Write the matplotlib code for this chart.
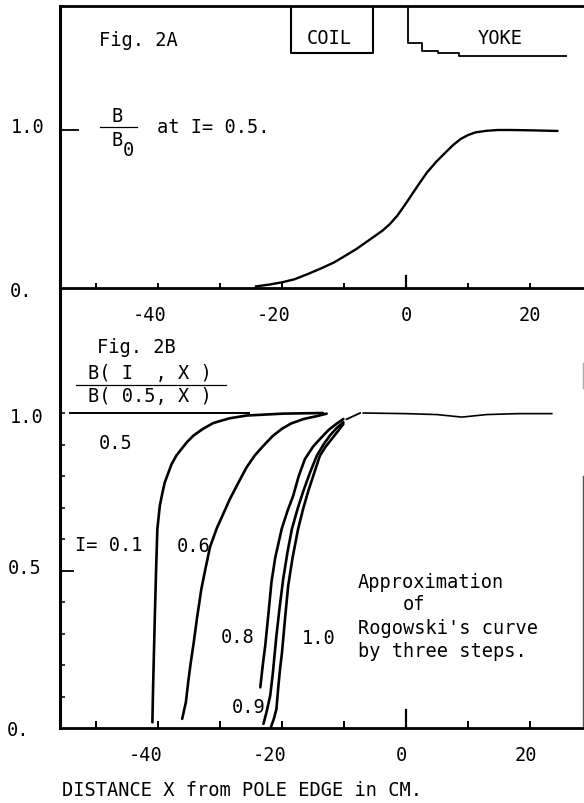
import matplotlib
matplotlib.use("Agg")
import matplotlib.pyplot as plt
from matplotlib.ticker import FixedLocator

plt.rcParams["font.family"] = ["DejaVu Sans Mono"]
plt.rcParams["font.size"] = 13.4

W, H = 584, 804

# fig 2A
xa = [-24.2, -22, -20, -18, -15.8, -13.7, -11.6, -9.8, -8, -6, -3.8, -2.6, -1.4, -0.2, 1, 2.2, 3.4,
      4.9, 6.4, 7.6, 8.8, 10, 11.2, 13, 14.8, 17, 20, 24.4]
ya = [0.01, 0.022, 0.036, 0.055, 0.089, 0.124, 0.162, 0.204, 0.247, 0.302, 0.363, 0.405, 0.458, 0.525,
      0.595, 0.665, 0.732, 0.8, 0.859, 0.905, 0.943, 0.968, 0.985, 0.995, 1.0, 1.0, 0.998, 0.994]
coil_x = [-18.6, -18.6, -5.3, -5.3]
coil_y = [1.8, 1.49, 1.49, 1.8]
yoke_x = [0.3, 0.3, 2.6, 2.6, 5.1, 5.1, 8.5, 8.5, 25.8]
yoke_y = [1.8, 1.55, 1.55, 1.5, 1.5, 1.485, 1.485, 1.47, 1.47]

# fig 2B
x01 = [-40.9, -40.8, -40.65, -40.5, -40.3, -40.1, -39.7, -39.3, -38.9, -37.8, -37, -36.2, -35.3, -34.3,
       -32.8, -31.1, -28.5, -25.7, -19.8, -13.4]
y01 = [0.018, 0.12, 0.24, 0.36, 0.505, 0.632, 0.706, 0.745, 0.78, 0.838, 0.866, 0.886, 0.908, 0.928,
       0.949, 0.968, 0.983, 0.992, 0.998, 1.0]
x06 = [-36.1, -35.5, -35.1, -34.7, -34.3, -33.7, -33, -32.3, -31.6, -30.5, -29.4, -28.4, -27, -25.7,
       -24.4, -23, -21.5, -20, -18.5, -16.5, -14.4, -12.8]
y06 = [0.029, 0.082, 0.15, 0.21, 0.262, 0.35, 0.442, 0.51, 0.575, 0.635, 0.683, 0.727, 0.78, 0.828,
       0.865, 0.896, 0.927, 0.95, 0.967, 0.981, 0.99, 0.998]
x08 = [-23.5, -23.1, -22.7, -22.2, -21.7, -21.1, -20.05, -19.1, -18.2, -17.3, -16.3, -15, -13.9, -12.5,
       -11.2, -10.1]
y08 = [0.129, 0.2, 0.262, 0.36, 0.463, 0.54, 0.632, 0.69, 0.737, 0.8, 0.854, 0.893, 0.917, 0.946,
       0.966, 0.981]
x09 = [-23, -22.5, -21.9, -21.5, -20.9, -20.4, -19.8, -19.1, -18.4, -17.5, -16.6, -15.5, -14.4, -13.3,
       -12.3, -11.2, -10.1]
y09 = [0.013, 0.05, 0.103, 0.17, 0.293, 0.38, 0.474, 0.56, 0.632, 0.695, 0.75, 0.81, 0.864, 0.9,
       0.928, 0.952, 0.971]
x10 = [-21.8, -21.3, -20.9, -20.6, -20.3, -20, -19.5, -19, -18.3, -17.4, -16.6, -15.8, -14.8, -13.9,
       -13, -12, -11, -10.1]
y10 = [0.002, 0.03, 0.06, 0.13, 0.19, 0.24, 0.35, 0.452, 0.54, 0.632, 0.695, 0.75, 0.81, 0.864,
       0.892, 0.917, 0.942, 0.965]
x05_left = [-54.2, -25.4]
y05_left = [1.0, 1.0]
x05_dash = [-9.6, -7.4]
y05_dash = [0.98, 1.0]
x05_right = [-6.9, 0, 5, 9, 13, 18, 23.5]
y05_right = [1.0, 0.998, 0.995, 0.987, 0.995, 0.998, 0.998]

xticks = [-50, -40, -30, -20, -10, 0, 10, 20]
xlabels = [-40, -20, 0, 20]
ytick_minor = [0.1, 0.2, 0.3, 0.4, 0.6, 0.7, 0.8, 0.9, 1.0]

fig = plt.figure(figsize=(W / 100, H / 100), dpi=100)


def make_ax(top, bottom):
    return fig.add_axes([60 / W, 1 - bottom / H, (W - 60) / W, (bottom - top) / H])


ax1 = make_ax(7, 289)
ax2 = make_ax(289, 729)
x_range = (-55.8, 28.7)
ax1.set_xlim(x_range)
ax2.set_xlim(x_range)
ax1.set_ylim(0, 282 / 158)
ax2.set_ylim(0, 440 / 315)

for ax in (ax1, ax2):
    ax.patch.set_alpha(0)
    ax.spines["left"].set_linewidth(2.2)
    ax.spines["bottom"].set_linewidth(2)
    ax.spines["right"].set_visible(False)
    ax.spines["top"].set_visible(False)
    ax.xaxis.set_major_locator(FixedLocator(xticks))
    ax.tick_params(axis="x", direction="in", width=1.4, labelbottom=False)
ax1.tick_params(axis="x", length=3.5)
ax2.tick_params(axis="x", length=5)
ax1.spines["top"].set_visible(True)
ax1.spines["top"].set_linewidth(2)

ax1.set_yticks([1.0])
ax1.set_yticklabels([])
ax1.tick_params(axis="y", direction="in", length=14, width=1.3)
ax2.set_yticks([0.5])
ax2.set_yticklabels([])
ax2.set_yticks(ytick_minor, minor=True)
ax2.tick_params(axis="y", which="major", direction="in", length=10, width=1.3)
ax2.tick_params(axis="y", which="minor", direction="in", length=3.5, width=1.1)

# taller tick at zero
ax1.plot([0, 0], [0, 0.078], color="black", lw=1.6)
ax2.plot([0, 0], [0, 0.057], color="black", lw=1.6)

# faint right edge of the lower frame
ax2.plot([28.55, 28.55], [0, 0.8], color="#555555", lw=1.0, clip_on=False)
ax2.plot([28.55, 28.55], [1.08, 1.16], color="#aaaaaa", lw=1.0, clip_on=False)

ax1.plot(xa, ya, color="black", lw=1.7)
ax1.plot(coil_x, coil_y, color="black", lw=1.5)
ax1.plot(yoke_x, yoke_y, color="black", lw=1.3)

for xs, ys in [(x01, y01), (x06, y06), (x08, y08), (x09, y09), (x10, y10)]:
    ax2.plot(xs, ys, color="black", lw=1.9, solid_capstyle="round")
ax2.plot(x05_left, y05_left, color="black", lw=1.4)
ax2.plot(x05_dash, y05_dash, color="black", lw=1.3)
ax2.plot(x05_right, y05_right, color="black", lw=1.2)


def txt(px, py, s, **kw):
    # text placed by its pixel position on the page
    kw.setdefault("va", "center")
    kw.setdefault("ha", "left")
    fig.text(px / W, 1 - py / H, s, **kw)


txt(99, 40, "Fig. 2A")
txt(307, 38, "COIL")
txt(478, 39, "YOKE")
txt(11, 128, "1.0")
txt(10, 292, "0.")
txt(117, 117, "B", ha="center")
txt(117, 140, "B", ha="center")
txt(128, 151, "0", ha="center")
txt(157, 128, "at I= 0.5.")
fig.add_artist(plt.Line2D([100 / W, 137 / W], [1 - 127.5 / H] * 2, color="black", lw=0.9))

for v in xlabels:
    px = 406 + v * 6.2
    if v < 0:
        txt(px - 8, 316, str(v), ha="center")
        txt(px - 12, 756, str(v), ha="center")
    else:
        txt(px, 316, str(v), ha="center")
        txt(px - 4.5, 756, str(v), ha="center")

txt(97, 348, "Fig. 2B")
txt(88, 374, "B( I  , X )")
txt(88, 397, "B( 0.5, X )")
fig.add_artist(plt.Line2D([76 / W, 226 / W], [1 - 385.5 / H] * 2, color="black", lw=0.9))
txt(10, 418, "1.0")
txt(8, 569, "0.5")
txt(7, 731, "0.")
txt(99, 444, "0.5")
txt(75, 546, "I= 0.1")
txt(177, 547, "0.6")
txt(221, 638, "0.8")
txt(302, 639, "1.0")
txt(232, 708, "0.9")
txt(358, 583, "Approximation")
txt(403, 605, "of")
txt(358, 629, "Rogowski's curve")
txt(358, 652, "by three steps.")
txt(62, 791, "DISTANCE X from POLE EDGE in CM.")

fig.savefig("out.png", dpi=100)
